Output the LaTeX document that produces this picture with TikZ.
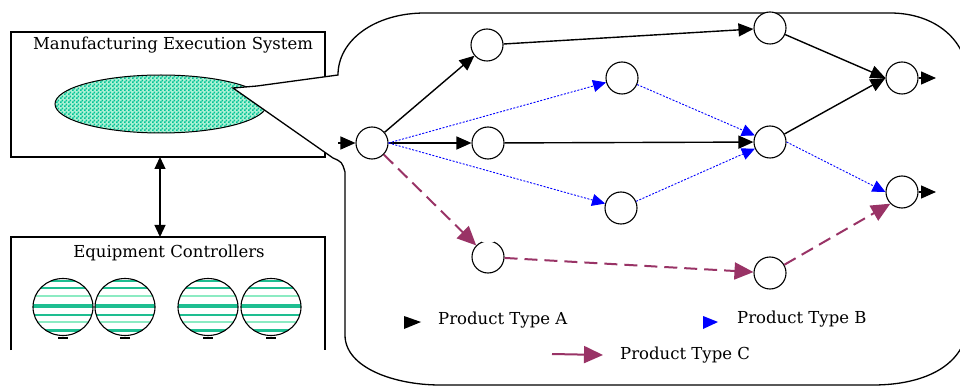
\documentclass[tikz,border=0pt]{standalone}
\usepackage{fontspec}
\setmainfont{DejaVu Serif}
\usetikzlibrary{arrows.meta,patterns}
\definecolor{maroonC}{RGB}{153,51,102}
\definecolor{blueB}{RGB}{0,0,255}
\definecolor{tealF}{RGB}{0,195,150}
\definecolor{tealS}{RGB}{30,190,145}
\definecolor{tealL}{RGB}{140,235,195}
\pgfdeclarepatternformonly{finecheck}{\pgfpointorigin}{\pgfpoint{4pt}{4pt}}{\pgfpoint{4pt}{4pt}}{%
  \pgfpathrectangle{\pgfpointorigin}{\pgfpoint{2pt}{2pt}}%
  \pgfpathrectangle{\pgfpoint{2pt}{2pt}}{\pgfpoint{2pt}{2pt}}%
  \pgfusepath{fill}}
\begin{document}
\begin{tikzpicture}[x=1pt,y=-1pt,
  pnode/.style={circle, draw, line width=1.1pt, fill=white, minimum size=32pt, inner sep=0pt},
  aline/.style={line width=1.4pt, -{Triangle[length=15pt,width=13pt]}},
  bline/.style={blueB, line width=0.9pt, dash pattern=on 2pt off 1.5pt, -{Triangle[length=13pt,width=12pt]}},
  cline/.style={maroonC, line width=2pt, dash pattern=on 13pt off 7pt, -{Triangle[length=19pt,width=17pt]}},
  lbl/.style={font=\fontsize{16.5}{19}\selectfont, inner sep=0pt},
  box/.style={line width=1.3pt}]
\useasboundingbox (0,0) rectangle (960,387);
\clip (0,0) rectangle (960,387);
% MES box
\node[draw, box, minimum width=314pt, minimum height=125pt, inner sep=0pt, outer sep=0pt] (mes) at (168,94.5) {};
\node[lbl] (mest) at (173,45) {Manufacturing Execution System};
\fill[tealL!70] (161,104) ellipse [x radius=106, y radius=29];
\fill[pattern=finecheck, pattern color=tealF] (161,104) ellipse [x radius=106, y radius=29];
\draw[line width=1pt] (161,104) ellipse [x radius=106, y radius=29];
% Equipment box
\node[minimum width=314pt, minimum height=113pt, inner sep=0pt, outer sep=0pt] (eq) at (168,293.5) {};
\draw[box] (eq.south west) -- (eq.north west) -- (eq.north east) -- (eq.south east);
\node[lbl] (eqt) at (169,253) {Equipment Controllers};
\draw[line width=1.3pt, {Triangle[length=12pt,width=11pt]}-{Triangle[length=12pt,width=11pt]}] ([xshift=-8pt]mes.south) -- ([xshift=-8pt]eq.north);
\foreach \cx in {63,125,208,271} {
  \begin{scope}
    \clip (\cx,307) ellipse [x radius=30, y radius=28.5];
    \fill[white] (\cx-31,277) rectangle (\cx+31,337);
    \foreach \dy/\w/\c in {-26/2/tealS,-19/1.6/tealS,-11/1.8/tealL,-1/3.2/tealS,8/1.8/tealS,15/2.2/tealL,23/3/tealS} {
      \draw[line width=\w pt, \c] (\cx-31,307+\dy) -- (\cx+31,307+\dy);
    }
  \end{scope}
  \draw[line width=1.1pt] (\cx,307) ellipse [x radius=30, y radius=28.5];
  \draw[line width=2.2pt] (\cx-5,338) -- (\cx+5,338);
}
% callout frame
\draw[box, fill=white] (345,172) -- (345,335) .. controls (345,368) and (395,385) .. (440,385)
  -- (873,385) .. controls (925,385) and (968,365) .. (968,320) -- (968,80)
  .. controls (968,40) and (935,13) .. (890,13) -- (425,13)
  .. controls (375,13) and (338,40) .. (338,75) -- (257,86) -- (233,88) -- (333,158)
  .. controls (342,162) .. (345,172);
% network nodes
\node[pnode] (s) at (372,143) {};
\node[pnode] (a1) at (487,45) {};
\node[pnode] (b1) at (622,78) {};
\node[pnode] (a2) at (488,143) {};
\node[pnode] (b2) at (621,208) {};
\node[pnode] (c1) at (488,257) {};
\node[pnode] (a3) at (770,28) {};
\node[pnode] (m) at (770,142) {};
\node[pnode] (o1) at (902,78) {};
\node[pnode] (o2) at (902,192) {};
\node[pnode] (c2) at (770,273) {};
\fill[white] ([xshift=-6pt,yshift=-2pt]c1.north) rectangle ([xshift=6pt,yshift=2pt]c1.north);
\coordinate (in0) at (338,143);
\coordinate (out1) at (936,78);
\coordinate (out2) at (936,192);
% edges type A
\draw[aline] (in0) -- (s.west);
\draw[aline] (s) -- (a1);
\draw[aline] (a1) -- (a3);
\draw[aline] (s) -- (a2);
\draw[aline] (a2) -- (m);
\draw[aline] (a3) -- (o1.west);
\draw[aline] (m) -- (o1.west);
\draw[aline] (o1.east) -- (out1);
\draw[aline] (o2.east) -- (out2);
% edges type B
\draw[bline] (s.east) -- (b1);
\draw[bline] (b1) -- (m);
\draw[bline] (s.east) -- (b2);
\draw[bline] (b2) -- (m);
\draw[bline] (m.east) -- (o2.west);
% edges type C
\draw[cline] (s) -- (c1);
\draw[cline] (c1) -- (c2);
\draw[cline] (c2) -- (o2.south west);
% legend
\fill (404,316) -- (421,322) -- (404,329) -- cycle;
\node[lbl, anchor=west] (la) at (438,320) {Product Type A};
\fill[blueB] (703,316) -- (718,322) -- (703,329) -- cycle;
\node[lbl, anchor=west] (lb) at (737,319) {Product Type B};
\coordinate (lc0) at (552,354);
\node[lbl, anchor=west] (lc) at (620,355) {Product Type C};
\draw[cline, solid] (lc0) -- ([xshift=-17pt]lc.west);
\end{tikzpicture}
\end{document}
